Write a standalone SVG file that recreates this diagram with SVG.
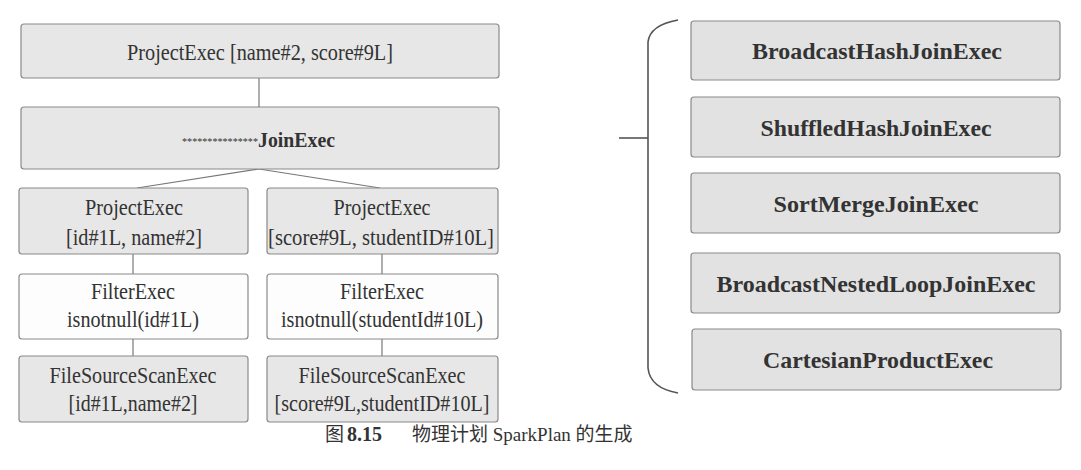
<svg xmlns="http://www.w3.org/2000/svg" width="1081" height="470" viewBox="0 0 1081 470">
<style>
.box{fill:#e7e7e7;stroke:#8a8a8a;stroke-width:1.2}
.wbox{fill:#fdfdfd;stroke:#8a8a8a;stroke-width:1.2}
.rbox{fill:#e2e2e2;stroke:#8a8a8a;stroke-width:1.2}
.t{font-family:"Liberation Serif",serif;font-size:23px;fill:#333;text-anchor:middle}
.b{font-family:"Liberation Serif",serif;font-size:24px;font-weight:bold;fill:#333;text-anchor:middle}
.conn line,.conn path{stroke:#777;stroke-width:1.2;fill:none}
.brace{stroke:#555;stroke-width:1.6;fill:none}
</style>
<rect width="1081" height="470" fill="#ffffff"/>
<g class="conn" id="connectors">
<line x1="259" y1="78" x2="259" y2="107"/>
<line x1="259" y1="169" x2="137" y2="188"/>
<line x1="259" y1="169" x2="380" y2="188"/>
<line x1="133" y1="254" x2="133" y2="274"/>
<line x1="133" y1="339" x2="133" y2="356"/>
<line x1="382" y1="254" x2="382" y2="274"/>
<line x1="382" y1="339" x2="382" y2="356"/>
</g>
<g id="brace">
<path class="brace" d="M678,20 Q650,25 648,42 L648,368 Q650,388 678,393"/>
<path class="brace" d="M619,138 L648,138"/>
</g>
<g id="n_project_top">
<rect class="box" x="21" y="24" width="478" height="54" rx="3"/>
<text class="t" x="260" y="60" textLength="266" lengthAdjust="spacingAndGlyphs">ProjectExec [name#2, score#9L]</text>
</g>
<g id="n_join">
<rect class="box" x="21" y="107" width="478" height="62" rx="3"/>
<text x="258" y="145" style="font-family:'Liberation Serif',serif;font-size:11px;fill:#333;text-anchor:end" textLength="76" lengthAdjust="spacingAndGlyphs">***************</text>
<text x="258" y="147" style="font-family:'Liberation Serif',serif;font-size:21px;font-weight:bold;fill:#333" textLength="77" lengthAdjust="spacingAndGlyphs">JoinExec</text>
</g>
<g id="n_project_l">
<rect class="box" x="19" y="188" width="229" height="66" rx="3"/>
<text class="t" x="134" y="215" textLength="98" lengthAdjust="spacingAndGlyphs">ProjectExec</text>
<text class="t" x="134" y="245" textLength="136" lengthAdjust="spacingAndGlyphs">[id#1L, name#2]</text>
</g>
<g id="n_filter_l">
<rect class="wbox" x="19" y="274" width="229" height="65" rx="3"/>
<text class="t" x="133" y="299" textLength="84" lengthAdjust="spacingAndGlyphs">FilterExec</text>
<text class="t" x="133" y="327" textLength="132" lengthAdjust="spacingAndGlyphs">isnotnull(id#1L)</text>
</g>
<g id="n_scan_l">
<rect class="box" x="19" y="356" width="229" height="66" rx="3"/>
<text class="t" x="133" y="383" textLength="167" lengthAdjust="spacingAndGlyphs">FileSourceScanExec</text>
<text class="t" x="133" y="411" textLength="129" lengthAdjust="spacingAndGlyphs">[id#1L,name#2]</text>
</g>
<g id="n_project_r">
<rect class="box" x="267" y="188" width="231" height="66" rx="3"/>
<text class="t" x="382" y="215" textLength="97" lengthAdjust="spacingAndGlyphs">ProjectExec</text>
<text class="t" x="381" y="245" textLength="226" lengthAdjust="spacingAndGlyphs">[score#9L, studentID#10L]</text>
</g>
<g id="n_filter_r">
<rect class="wbox" x="267" y="274" width="231" height="65" rx="3"/>
<text class="t" x="382" y="299" textLength="84" lengthAdjust="spacingAndGlyphs">FilterExec</text>
<text class="t" x="382" y="327" textLength="202" lengthAdjust="spacingAndGlyphs">isnotnull(studentId#10L)</text>
</g>
<g id="n_scan_r">
<rect class="box" x="267" y="356" width="231" height="66" rx="3"/>
<text class="t" x="382" y="383" textLength="167" lengthAdjust="spacingAndGlyphs">FileSourceScanExec</text>
<text class="t" x="382" y="411" textLength="215" lengthAdjust="spacingAndGlyphs">[score#9L,studentID#10L]</text>
</g>
<g id="n_bhj">
<rect class="rbox" x="691" y="21" width="369" height="59" rx="3"/>
<text class="b" x="877" y="59" textLength="250" lengthAdjust="spacingAndGlyphs">BroadcastHashJoinExec</text>
</g>
<g id="n_shj">
<rect class="rbox" x="691" y="97" width="369" height="60" rx="3"/>
<text class="b" x="876" y="136" textLength="231" lengthAdjust="spacingAndGlyphs">ShuffledHashJoinExec</text>
</g>
<g id="n_smj">
<rect class="rbox" x="691" y="173" width="369" height="60" rx="3"/>
<text class="b" x="876" y="212" textLength="205" lengthAdjust="spacingAndGlyphs">SortMergeJoinExec</text>
</g>
<g id="n_bnlj">
<rect class="rbox" x="691" y="253" width="369" height="60" rx="3"/>
<text class="b" x="876" y="292" textLength="319" lengthAdjust="spacingAndGlyphs">BroadcastNestedLoopJoinExec</text>
</g>
<g id="n_cp">
<rect class="rbox" x="692" y="329" width="369" height="61" rx="3"/>
<text class="b" x="878" y="368" textLength="230" lengthAdjust="spacingAndGlyphs">CartesianProductExec</text>
</g>
<g id="caption" style="font-family:'Liberation Serif','Noto Sans CJK SC',serif;font-size:19px;fill:#333">
<text x="325" y="441">图</text>
<text x="347" y="441" style="font-weight:bold;font-size:20px">8.15</text>
<text x="412" y="441">物理计划 SparkPlan 的生成</text>
</g>
</svg>
